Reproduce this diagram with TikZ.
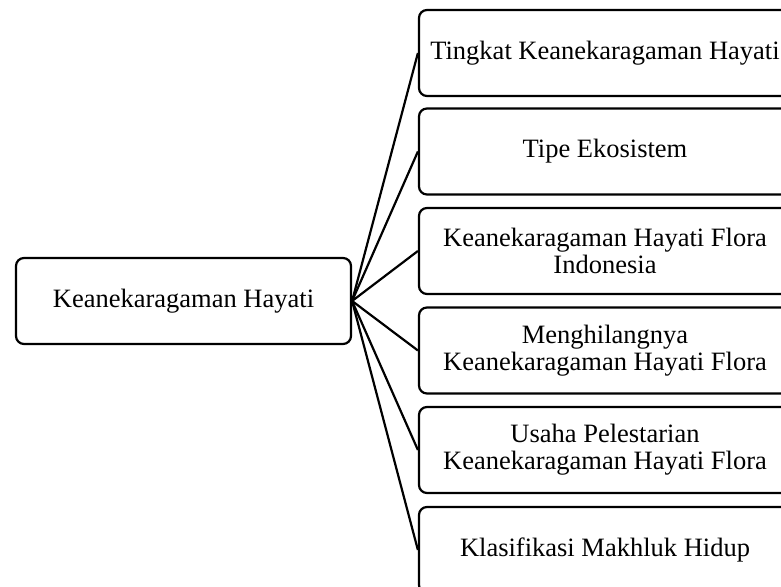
\documentclass[tikz,border=0pt]{standalone}
\usepackage{fontspec}
\setmainfont{Liberation Serif}
\begin{document}
\begin{tikzpicture}[x=1pt,y=1pt,line width=2.2pt,
  box/.style={draw,rounded corners=8pt,minimum height=86pt,inner sep=2pt,align=center,font=\fontsize{26.5}{27}\selectfont},
  topic/.style={box,minimum width=372pt}]
\useasboundingbox (0,0) rectangle (781,586);
\node[box,minimum width=335pt] (K) at (183.5,285) {Keanekaragaman Hayati};
\node[topic] (a) at (605,533) {Tingkat Keanekaragaman Hayati};
\node[topic] (b) at (605,434.5) {Tipe Ekosistem};
\node[topic] (c) at (605,335) {Keanekaragaman Hayati Flora\\Indonesia};
\node[topic] (d) at (605,235.5) {Menghilangnya\\Keanekaragaman Hayati Flora};
\node[topic] (e) at (605,136) {Usaha Pelestarian\\Keanekaragaman Hayati Flora};
\node[topic] (f) at (605,36) {Klasifikasi Makhluk Hidup};
\draw (K.east) -- (a.west);
\draw (K.east) -- (b.west);
\draw (K.east) -- (c.west);
\draw (K.east) -- (d.west);
\draw (K.east) -- (e.west);
\draw (K.east) -- (f.west);
\end{tikzpicture}
\end{document}
